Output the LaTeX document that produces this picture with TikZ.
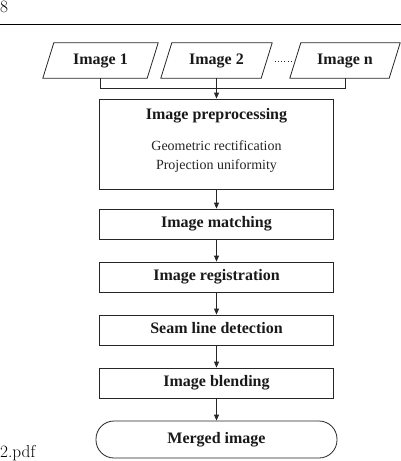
\documentclass[tikz,border=0pt]{standalone}
\usepackage{fontspec}
\newfontfamily\timesfont{Liberation Serif}
\usetikzlibrary{arrows.meta}
\begin{document}
\begin{tikzpicture}[x=1pt,y=-1pt,
  outline/.style={draw=black!85, line width=0.8pt},
  box/.style={outline, minimum width=234pt, minimum height=30pt, inner sep=0pt,
    text height=11pt, text depth=3.5pt,
    text=black!90, font=\timesfont\bfseries\fontsize{16}{19}\selectfont},
  img/.style={minimum height=35pt, inner sep=0pt, text=black!90,
    text height=11pt, text depth=3.5pt,
    font=\timesfont\bfseries\fontsize{16}{19}\selectfont},
  title/.style={inner sep=0pt, text=black!90, text height=11pt, text depth=3.5pt,
    font=\timesfont\bfseries\fontsize{16}{19}\selectfont},
  sub/.style={inner sep=0pt, align=center, text=black!85, font=\timesfont\fontsize{14}{19}\selectfont},
  conn/.style={draw=black!85, line width=0.8pt},
  arr/.style={conn, -{Triangle[length=6pt,width=5pt]}},
  lm/.style={inner sep=0pt, font=\fontsize{17.28}{20}\selectfont}
]
\useasboundingbox (0,0) rectangle (401,461);

% page header / footer remnants
\node[lm, anchor=north west] (pg) at (0,1) {8};
\draw[line width=0.6pt] (0,24) -- (401,24);
\node[lm, anchor=base west] (fn) at (0,457) {2.pdf};

% input images (parallelograms)
\node[img, minimum width=104pt] (i1) at (100.5,60.5) {Image 1};
\node[img, minimum width=100pt] (i2) at (216.5,60.5) {Image 2};
\node[img, minimum width=99pt] (in) at (345,60.5) {Image n};
\foreach \n in {i1,i2,in}{
  \draw[outline] ([xshift=-5.5pt]\n.south west) -- ([xshift=5.5pt]\n.north west)
    -- ([xshift=5.5pt]\n.north east) -- ([xshift=-5.5pt]\n.south east) -- cycle;
}
\draw[black!85, line width=0.9pt, dash pattern=on 1pt off 2.3pt] (274.5,61) -- (293,61);

% process boxes
\node[outline, minimum width=234pt, minimum height=90pt, inner sep=0pt] (pre) at (216.5,144) {};
\node[title] (pret) at (216.5,116) {Image preprocessing};
\node[sub] (pres) at (216.5,156.5) {Geometric rectification\\Projection uniformity};
\node[box] (match) at (216.5,224) {Image matching};
\node[box] (reg) at (216.5,277) {Image registration};
\node[box] (seam) at (216.5,330) {Seam line detection};
\node[box] (blend) at (216.5,383) {Image blending};
\node[box, rounded corners=18pt, minimum width=241pt, minimum height=37pt] (merged) at (216.5,439.5) {Merged image};

% connectors
\coordinate (bus) at (0,88);
\draw[conn] (i1.south) -- (i1.south |- bus) -- (in.south |- bus) -- (in.south);
\draw[arr] (i2.south) -- (pre.north);
\draw[arr] (pre.south) -- (match.north);
\draw[arr] (match.south) -- (reg.north);
\draw[arr] (reg.south) -- (seam.north);
\draw[arr] (seam.south) -- (blend.north);
\draw[arr] (blend.south) -- (merged.north);
\end{tikzpicture}
\end{document}
